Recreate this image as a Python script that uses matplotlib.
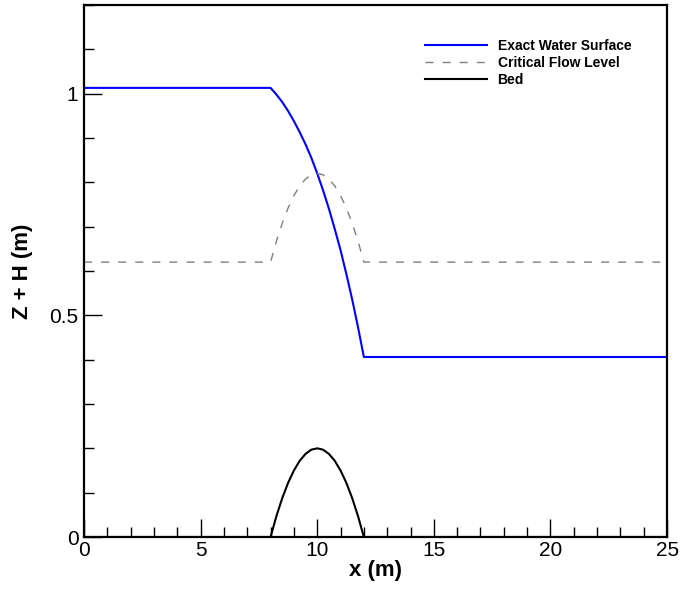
import matplotlib
matplotlib.use("Agg")
import matplotlib.pyplot as plt
from matplotlib.ticker import MultipleLocator, FixedLocator

plt.rcParams['font.family'] = ['Liberation Sans', 'DejaVu Sans']

# Data
x = [0, 8.0, 8.25, 8.5, 8.75, 9.0, 9.25, 9.5, 9.75, 10.0,
     10.25, 10.5, 10.75, 11.0, 11.25, 11.5, 11.75, 12.0, 25]
water = [1.013, 1.013, 0.998, 0.981, 0.961, 0.938, 0.913, 0.8855, 0.855, 0.82,
         0.782, 0.7405, 0.695, 0.647, 0.593, 0.5355, 0.473, 0.406, 0.406]
critical = [0.62, 0.62, 0.667, 0.7075, 0.742, 0.77, 0.792, 0.8075, 0.817, 0.82,
            0.817, 0.8075, 0.792, 0.77, 0.742, 0.7075, 0.667, 0.62, 0.62]
bed = [0, 0, 0.047, 0.0875, 0.122, 0.15, 0.172, 0.1875, 0.197, 0.2,
       0.197, 0.1875, 0.172, 0.15, 0.122, 0.0875, 0.047, 0, 0]

fig = plt.figure(figsize=(6.8, 5.92), dpi=100)
ax = fig.add_axes([0.1235, 0.0929, 0.8575, 0.8987])

ax.plot(x, water, color='#0000ff', lw=1.5, label='Exact Water Surface')
ax.plot(x, critical, color='#808080', lw=1.0, ls=(0, (5.8, 6.5)), label='Critical Flow Level')
ax.plot(x, bed, color='black', lw=1.5, label='Bed')

ax.set_xlim(0, 25)
ax.set_ylim(0, 1.2)
ax.xaxis.set_major_locator(MultipleLocator(5))
ax.xaxis.set_minor_locator(MultipleLocator(1))
ax.yaxis.set_major_locator(FixedLocator([0, 0.5, 1]))
ax.yaxis.set_minor_locator(MultipleLocator(0.1))
ax.set_yticklabels(['0', '0.5', '1'])

ax.tick_params(which='both', direction='in', top=False, right=False, width=1.0)
ax.tick_params(which='major', length=13, labelsize=15, pad=3)
ax.tick_params(which='minor', length=7)
ax.tick_params(axis='y', pad=4)
for s in ax.spines.values():
    s.set_linewidth(1.6)

ax.set_xlabel('x (m)', fontsize=16, fontweight='bold', labelpad=0)
ax.set_ylabel('Z + H (m)', fontsize=16, fontweight='bold', labelpad=12)

leg = ax.legend(loc='upper left', bbox_to_anchor=(0.576, 0.946), frameon=False,
                prop={'size': 10, 'weight': 'bold'}, handlelength=4.4,
                handletextpad=0.8, labelspacing=0.19, borderaxespad=0)

fig.savefig('out.png', dpi=100)
